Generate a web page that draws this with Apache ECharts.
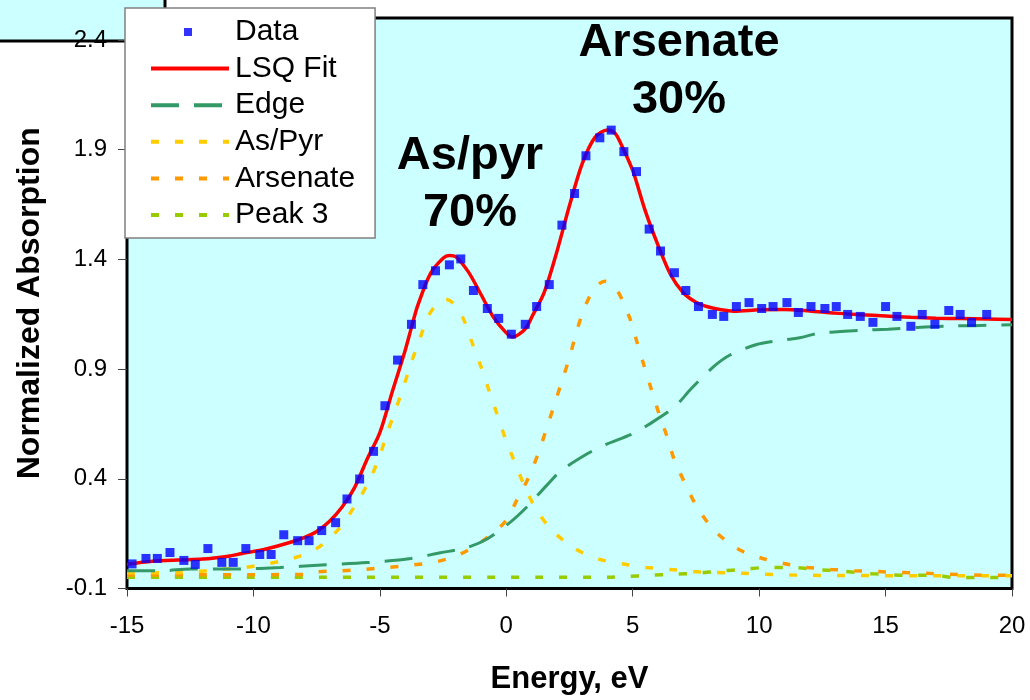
<!DOCTYPE html>
<html>
<head>
<meta charset="utf-8">
<script src="https://cdn.jsdelivr.net/npm/echarts@6/dist/echarts.min.js"></script>
<style>
  html, body { margin: 0; padding: 0; background: #ffffff; }
  #chart { width: 1030px; height: 700px; }
</style>
</head>
<body>
<div id="chart"></div>
<script>
// XANES fit of arsenic edge: measured points, least-squares fit and its components.
// Each entry is [energy (eV), normalized absorption].
const measured = [
  [-14.8, 0.012], [-14.25, 0.037], [-13.8, 0.037], [-13.3, 0.064], [-12.75, 0.028],
  [-12.3, 0.010], [-11.8, 0.082], [-11.25, 0.019], [-10.8, 0.019], [-10.3, 0.082],
  [-9.75, 0.055], [-9.3, 0.055], [-8.8, 0.145], [-8.25, 0.118], [-7.8, 0.118],
  [-7.3, 0.164], [-6.75, 0.200], [-6.3, 0.308], [-5.8, 0.399], [-5.25, 0.525],
  [-4.8, 0.733], [-4.3, 0.941], [-3.75, 1.104], [-3.3, 1.285], [-2.8, 1.348],
  [-2.25, 1.375], [-1.8, 1.402], [-1.3, 1.258], [-0.75, 1.176], [-0.3, 1.131],
  [0.2, 1.059], [0.75, 1.104], [1.2, 1.185], [1.7, 1.285], [2.2, 1.556],
  [2.7, 1.700], [3.15, 1.872], [3.7, 1.954], [4.15, 1.989], [4.65, 1.891],
  [5.15, 1.800], [5.65, 1.538], [6.1, 1.438], [6.65, 1.339], [7.1, 1.258],
  [7.6, 1.185], [8.15, 1.149], [8.6, 1.140], [9.1, 1.185], [9.6, 1.203],
  [10.1, 1.176], [10.55, 1.185], [11.1, 1.203], [11.55, 1.158], [12.05, 1.185],
  [12.6, 1.176], [13.05, 1.185], [13.5, 1.149], [14.0, 1.140], [14.5, 1.113],
  [15.0, 1.185], [15.45, 1.140], [16.0, 1.095], [16.45, 1.149], [16.95, 1.104],
  [17.5, 1.167], [17.95, 1.149], [18.4, 1.113], [19.0, 1.149]
];

const lsqFit = [
  [-15, 0.010], [-14, 0.024], [-13, 0.030], [-12, 0.034], [-11, 0.047],
  [-10.5, 0.058], [-9.5, 0.080], [-8.5, 0.112], [-8, 0.132], [-7.5, 0.160],
  [-7, 0.205], [-6.5, 0.270], [-6, 0.360], [-5.5, 0.490], [-5, 0.610],
  [-4.5, 0.800], [-4, 0.985], [-3.75, 1.090], [-3.5, 1.190], [-3, 1.335],
  [-2.5, 1.405], [-2.25, 1.418], [-2, 1.412], [-1.5, 1.343], [-1, 1.240],
  [-0.5, 1.135], [0, 1.065], [0.25, 1.046], [0.5, 1.058], [0.8, 1.090],
  [1, 1.135], [1.5, 1.250], [2, 1.435], [2.5, 1.645], [3, 1.835],
  [3.5, 1.955], [4, 1.990], [4.3, 1.975], [4.5, 1.935], [5, 1.805],
  [5.5, 1.620], [6, 1.465], [6.5, 1.330], [7, 1.248], [7.5, 1.205],
  [8, 1.183], [8.5, 1.170], [9, 1.164], [10, 1.170], [11, 1.172],
  [12, 1.165], [13, 1.155], [14, 1.148], [15, 1.142], [16, 1.136],
  [17, 1.132], [18, 1.130], [19, 1.128], [20, 1.126]
];

const edgeStep = [
  [-15, -0.019], [-13.6, -0.019], [-12.5, -0.011], [-10.5, -0.011], [-8.95, -0.004],
  [-7.3, 0.007], [-5.5, 0.018], [-3.78, 0.037], [-2.6, 0.063], [-1.6, 0.085],
  [-0.74, 0.127], [0.21, 0.207], [0.8, 0.270], [1.6, 0.370], [2.17, 0.437],
  [3.22, 0.515], [3.89, 0.554], [4.94, 0.602], [5.6, 0.645], [6.65, 0.727],
  [7.3, 0.809], [8.2, 0.911], [8.85, 0.964], [9.9, 1.012], [10.6, 1.027],
  [11.65, 1.044], [12.3, 1.062], [13.37, 1.072], [14.1, 1.077], [15.1, 1.082],
  [16.25, 1.090], [17.4, 1.096], [18.5, 1.098], [20, 1.102]
];

const asPyrPeak = [
  [-15, -0.028], [-13, -0.028], [-12.25, -0.023], [-11.3, -0.013], [-10.35, -0.004],
  [-9.4, 0.014], [-8.45, 0.037], [-7.5, 0.082], [-6.65, 0.168], [-6, 0.274],
  [-5.45, 0.384], [-5.05, 0.489], [-4.75, 0.595], [-4.4, 0.708], [-4.08, 0.813],
  [-3.78, 0.922], [-3.45, 1.027], [-3.1, 1.137], [-2.75, 1.195], [-2.4, 1.218],
  [-2.05, 1.195], [-1.7, 1.130], [-1.35, 1.020], [-1.0, 0.911], [-0.68, 0.801],
  [-0.36, 0.693], [-0.04, 0.585], [0.31, 0.482], [0.7, 0.373], [1.17, 0.263],
  [1.84, 0.162], [2.74, 0.080], [3.66, 0.034], [4.64, 0.012], [5.53, -0.004],
  [6.48, -0.013], [7.41, -0.023], [9.28, -0.031], [12.05, -0.040], [20, -0.042]
];

const arsenatePeak = [
  [-15, -0.038], [-8, -0.036], [-7.5, -0.024], [-6.6, -0.020], [-5.6, -0.013],
  [-4.69, -0.004], [-3.71, 0.007], [-2.76, 0.022], [-1.91, 0.052], [-0.99, 0.112],
  [-0.06, 0.203], [0.43, 0.305], [0.9, 0.410], [1.3, 0.527], [1.6, 0.632],
  [1.91, 0.741], [2.21, 0.848], [2.5, 0.953], [2.78, 1.070], [3.09, 1.178],
  [3.5, 1.270], [3.9, 1.300], [4.35, 1.265], [4.87, 1.137], [5.16, 1.027],
  [5.44, 0.919], [5.73, 0.810], [6.03, 0.700], [6.35, 0.595], [6.65, 0.485],
  [7.05, 0.384], [7.55, 0.271], [8.23, 0.165], [9.13, 0.082], [10.05, 0.040],
  [10.97, 0.014], [11.92, -0.004], [12.84, -0.013], [13.76, -0.019], [14.72, -0.023],
  [16.6, -0.031], [19.36, -0.040], [20, -0.040]
];

const peak3 = [
  [-15, -0.049], [4.0, -0.049], [4.74, -0.045], [5.66, -0.040], [6.58, -0.035],
  [7.57, -0.030], [8.49, -0.020], [9.4, -0.013], [10.3, -0.004], [11.3, -0.004],
  [12.2, -0.013], [13.2, -0.020], [14.1, -0.030], [15.0, -0.036], [15.9, -0.040],
  [16.9, -0.040], [17.8, -0.050], [18.8, -0.050], [20, -0.050]
];

const energyRange = [-15, 20];
const energyStep = 5;
const absorbRange = [-0.1, 2.5];
const absorbStep = 0.5;

const seriesNames = ['Data', 'LSQ Fit', 'Edge', 'As/Pyr', 'Arsenate', 'Peak 3'];
const peakLabels = [
  { text: 'As/pyr\n70%', at: [470, 185] },
  { text: 'Arsenate\n30%', at: [679, 72] }
];

const FONT = '"Liberation Sans", Arial, sans-serif';
const chart = echarts.init(document.getElementById('chart'), null, { renderer: 'canvas' });

function curve(name, data, color, width, dash, z) {
  return {
    name: name,
    type: 'line',
    data: data,
    showSymbol: false,
    symbol: 'none',
    smooth: 0.3,
    z: z,
    color: color,
    lineStyle: { color: color, width: width, type: dash },
    emphasis: { disabled: true }
  };
}

// legend entries for the curves show only the (slightly heavier) line stroke
function lineEntry(name) {
  return { name: name, itemStyle: { opacity: 0 }, lineStyle: { width: 4 } };
}

chart.setOption({
  animation: false,
  backgroundColor: '#ffffff',
  grid: {
    left: 127, right: 18, top: 18, bottom: 108,
    show: true,
    backgroundColor: '#CCFFFF',
    borderColor: '#000000',
    borderWidth: 3,
    containLabel: false
  },
  xAxis: {
    type: 'value',
    min: energyRange[0], max: energyRange[1], interval: energyStep,
    name: 'Energy, eV',
    nameLocation: 'middle',
    nameGap: 76,
    nameTextStyle: { fontFamily: FONT, fontSize: 31, fontWeight: 'bold', color: '#000', lineHeight: 30 },
    axisLine: { show: false, onZero: false },
    axisTick: { show: true, length: 8, lineStyle: { color: '#444', width: 1 } },
    axisLabel: { fontFamily: FONT, fontSize: 24, color: '#000', margin: 26 },
    splitLine: { show: false }
  },
  yAxis: {
    type: 'value',
    min: absorbRange[0], max: absorbRange[1], interval: absorbStep,
    name: 'Normalized Absorption',
    nameLocation: 'middle',
    nameRotate: 90,
    nameGap: 82,
    nameTextStyle: { fontFamily: FONT, fontSize: 32, fontWeight: 'bold', color: '#000', lineHeight: 30 },
    axisLine: { show: false, onZero: false },
    axisTick: { show: true, length: 9, lineStyle: { color: '#444', width: 1 } },
    axisLabel: {
      fontFamily: FONT, fontSize: 24, color: '#000', margin: 20,
      showMaxLabel: false,
      formatter: function (v) { return v.toFixed(1); }
    },
    splitLine: { show: false }
  },
  legend: {
    orient: 'vertical',
    left: 125, top: 8,
    padding: [9, 20, 8, 24],
    itemWidth: 78, itemHeight: 14, itemGap: 6.6,
    backgroundColor: '#ffffff',
    borderColor: '#808080',
    borderWidth: 1.5,
    borderRadius: 0,
    z: 20,
    textStyle: { fontFamily: FONT, fontSize: 30, lineHeight: 30, color: '#000', padding: [0, 0, 0, 1] },
    data: [
      { name: seriesNames[0], icon: 'path://M0,0Z M78,14Z M33,3h8v8h-8z' },
      lineEntry(seriesNames[1]), lineEntry(seriesNames[2]), lineEntry(seriesNames[3]),
      lineEntry(seriesNames[4]), lineEntry(seriesNames[5])
    ]
  },
  graphic: [
    {
      type: 'rect', z: -1,
      shape: { x: -5, y: -5, width: 170, height: 46 },
      style: { fill: '#CCFFFF', stroke: '#000000', lineWidth: 3 }
    },
    ...peakLabels.map(function (p) {
      return {
        type: 'text', z: 30,
        x: p.at[0], y: p.at[1],
        style: {
          text: p.text,
          font: 'bold 47px ' + FONT,
          fill: '#000',
          align: 'center',
          verticalAlign: 'middle',
          lineHeight: 57
        }
      };
    })
  ],
  series: [
    curve(seriesNames[5], peak3, '#99CC00', 3.5, [8, 16], 2),
    curve(seriesNames[4], arsenatePeak, '#FF9900', 3.5, [8, 16], 3),
    curve(seriesNames[3], asPyrPeak, '#FFCC00', 3.5, [8, 16], 4),
    curve(seriesNames[2], edgeStep, '#339966', 3, [28, 15], 5),
    curve(seriesNames[1], lsqFit, '#FF0000', 3.5, 'solid', 6),
    {
      name: seriesNames[0],
      type: 'scatter',
      data: measured,
      symbol: 'rect',
      symbolSize: 9,
      z: 7,
      color: '#0000FF',
      itemStyle: { color: '#0000FF' },
      emphasis: { disabled: true }
    }
  ]
});
</script>
</body>
</html>
